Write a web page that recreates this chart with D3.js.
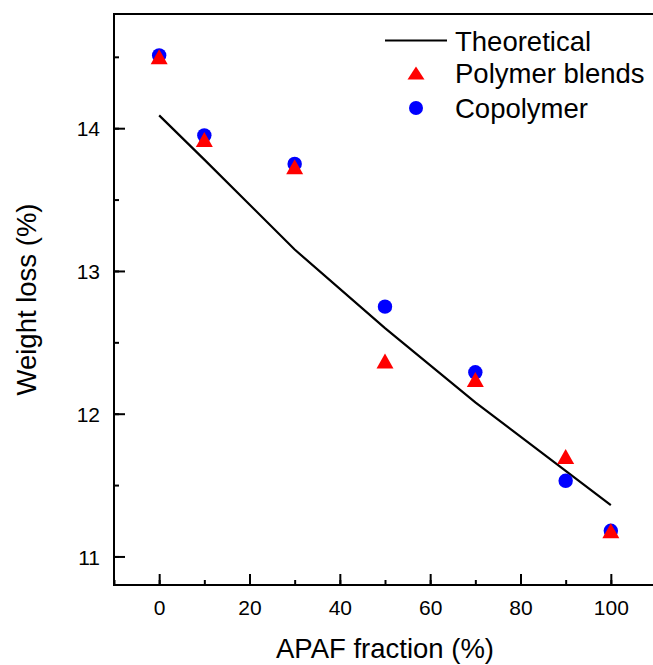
<!DOCTYPE html>
<meta charset="utf-8">
<style>
 body { margin: 0; background: #fff; }
 svg { font-family: Arial, "Liberation Sans", sans-serif; background: #fff; }
 .frame { stroke: #000; stroke-width: 2px; fill: none; }
 .tick line { stroke: #000; stroke-width: 2px; }
</style>
<body>
<svg width="653" height="665"></svg>
</body>
<script src="https://d3js.org/d3.v7.min.js"></script>
<script>

// data
var fractions   = [0, 10, 30, 50, 70, 90, 100];
var theoretical = [14.09, 13.78, 13.15, 12.60, 12.08, 11.60, 11.36];
var blends      = [14.50, 13.92, 13.73, 12.37, 12.24, 11.70, 11.18];
var copolymer   = [14.51, 13.95, 13.75, 12.75, 12.29, 11.53, 11.18];
var seriesNames = ["Theoretical", "Polymer blends", "Copolymer"];
var xTicks = [0, 20, 40, 60, 80, 100];
var yTicks = [11, 12, 13, 14];

var svg = d3.select("svg");

var x = d3.scaleLinear().domain([-10, 110]).range([114, 656]);
var y = d3.scaleLinear().domain([10.8, 14.8]).range([585, 14]);

// frame
svg.append("rect").attr("class", "frame")
    .attr("x", x(-10)).attr("y", y(14.8))
    .attr("width", x(110) - x(-10)).attr("height", y(10.8) - y(14.8));

// bottom axis, ticks inward
var xMinor = d3.range(-10, 111, 10);
var xAxisG = svg.append("g").attr("transform", "translate(0," + y(10.8) + ")");
xAxisG.call(d3.axisBottom(x).tickValues(xMinor).tickSize(-5).tickFormat(""));
xAxisG.call(function(g){ g.select(".domain").remove(); });
var xMajorG = svg.append("g").attr("transform", "translate(0," + y(10.8) + ")");
xMajorG.call(d3.axisBottom(x).tickValues(xTicks).tickSize(-11).tickPadding(0).tickFormat(d3.format("d")));
xMajorG.select(".domain").remove();
xMajorG.selectAll("text")
    .attr("y", 30).attr("dy", null)
    .attr("fill", "#000")
    .style("font-size", "21px");

// left axis, ticks inward
var yMinor = d3.range(11, 14.6, 0.5);
var yAxisG = svg.append("g").attr("transform", "translate(" + x(-10) + ",0)");
yAxisG.call(d3.axisLeft(y).tickValues(yMinor).tickSize(-5).tickFormat(""));
yAxisG.select(".domain").remove();
var yMajorG = svg.append("g").attr("transform", "translate(" + x(-10) + ",0)");
yMajorG.call(d3.axisLeft(y).tickValues(yTicks).tickSize(-11).tickFormat(d3.format("d")));
yMajorG.select(".domain").remove();
yMajorG.selectAll("text")
    .attr("x", -14).attr("dy", "0.36em")
    .attr("fill", "#000")
    .style("font-size", "21px");

// axis titles
svg.append("text")
    .attr("x", x(50)).attr("y", 658)
    .attr("text-anchor", "middle")
    .style("font-size", "27.5px")
    .text("APAF fraction (%)");
svg.append("text")
    .attr("transform", "translate(36," + (y(10.8) + y(14.8)) / 2 + ") rotate(-90)")
    .attr("text-anchor", "middle")
    .style("font-size", "27.5px")
    .text("Weight loss (%)");

// theoretical line
var line = d3.line()
    .x(function(d, i){ return x(fractions[i]); })
    .y(function(d){ return y(d); });
svg.append("path")
    .datum(theoretical)
    .attr("d", line)
    .attr("fill", "none")
    .attr("stroke", "#000")
    .attr("stroke-width", 2.2);

// markers
function triPath(w, h) {
    return "M0," + (-h / 2) + "L" + (w / 2) + "," + (h / 2) + "L" + (-w / 2) + "," + (h / 2) + "Z";
}

svg.append("g").selectAll("circle")
    .data(copolymer)
    .enter().append("circle")
    .attr("cx", function(d, i){ return x(fractions[i]); })
    .attr("cy", function(d){ return y(d); })
    .attr("r", 7.2)
    .attr("fill", "#0000ff");

svg.append("g").selectAll("path")
    .data(blends)
    .enter().append("path")
    .attr("d", triPath(17, 15))
    .attr("transform", function(d, i){ return "translate(" + x(fractions[i]) + "," + y(d) + ")"; })
    .attr("fill", "#ff0000");

// legend
var legend = svg.append("g").attr("transform", "translate(385,0)");
var rowY = [40.5, 73, 108];
legend.append("line")
    .attr("x1", 0).attr("x2", 62)
    .attr("y1", rowY[0]).attr("y2", rowY[0])
    .attr("stroke", "#000").attr("stroke-width", 2.2);
legend.append("path")
    .attr("d", triPath(17, 13))
    .attr("transform", "translate(31," + rowY[1] + ")")
    .attr("fill", "#ff0000");
legend.append("circle")
    .attr("cx", 31).attr("cy", rowY[2]).attr("r", 7)
    .attr("fill", "#0000ff");
legend.selectAll("text")
    .data(seriesNames)
    .enter().append("text")
    .attr("x", 70)
    .attr("y", function(d, i){ return rowY[i] + 10; })
    .style("font-size", "27.5px")
    .text(function(d){ return d; });

</script>
</html>
